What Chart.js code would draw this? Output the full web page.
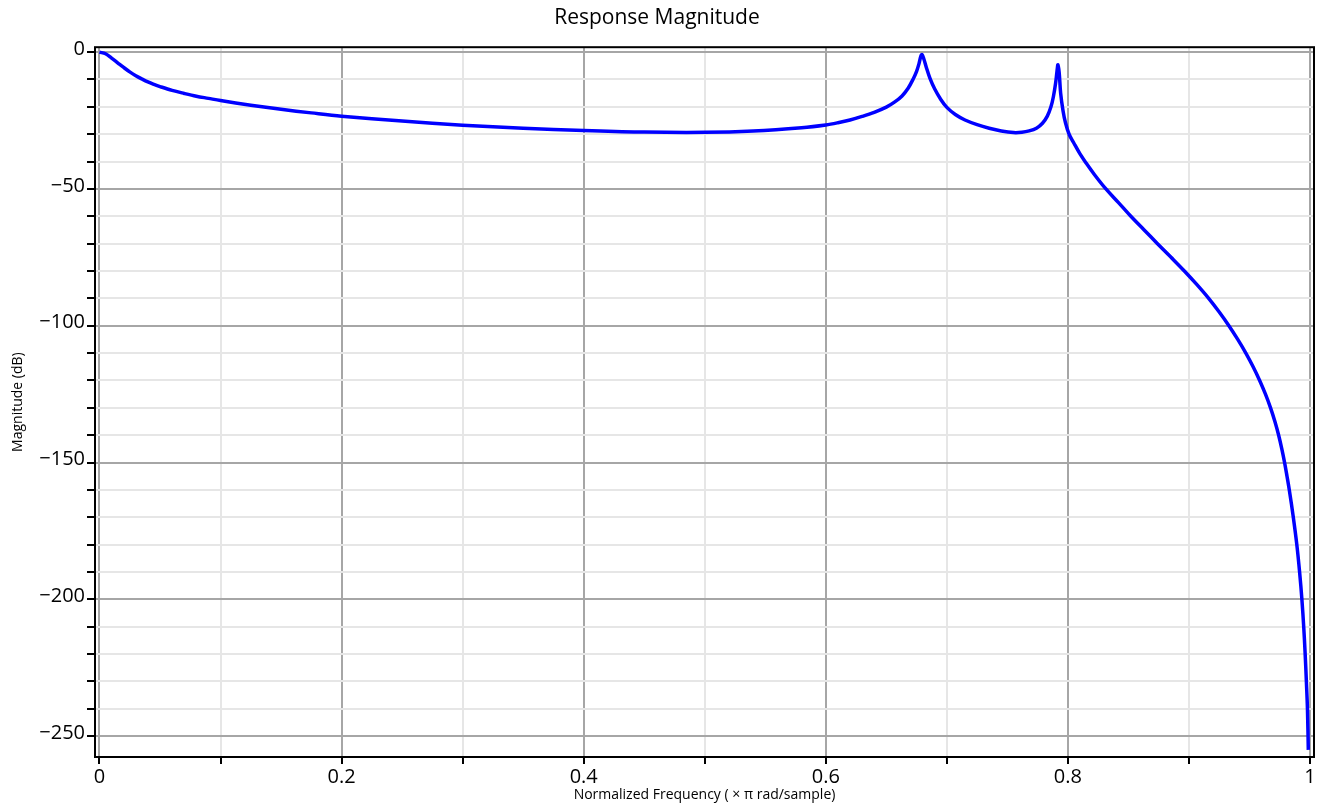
<!DOCTYPE html>
<html>
<head>
<meta charset="utf-8">
<title>Response Magnitude</title>
<script src="https://cdn.jsdelivr.net/npm/chart.js@4.4.1/dist/chart.umd.min.js"></script>
<style>
  html, body { margin: 0; padding: 0; background: #fff; }
  #wrap { width: 1323px; height: 804px; }
</style>
</head>
<body>
<div id="wrap"><canvas id="magChart"></canvas></div>
<script>
// normalized frequency (x pi rad/sample)
const freq = [
  0, 0.005, 0.01, 0.015, 0.02, 0.025, 0.03, 0.035, 0.04, 0.045,
  0.05, 0.06, 0.07, 0.08, 0.09, 0.1, 0.125, 0.15, 0.175, 0.2,
  0.25, 0.3, 0.35, 0.4, 0.45, 0.5, 0.54, 0.58, 0.6, 0.61,
  0.62, 0.63, 0.64, 0.65, 0.657, 0.663, 0.668, 0.672, 0.675, 0.677,
  0.6785, 0.6795, 0.681, 0.683, 0.686, 0.69, 0.695, 0.7, 0.707, 0.715,
  0.725, 0.735, 0.745, 0.755, 0.762, 0.768, 0.774, 0.779, 0.783, 0.786,
  0.788, 0.7898, 0.791, 0.7918, 0.7928, 0.794, 0.796, 0.798, 0.801, 0.805,
  0.81, 0.815, 0.822, 0.8314, 0.8418, 0.852, 0.863, 0.874, 0.8852, 0.8962,
  0.9066, 0.9163, 0.925, 0.933, 0.9403, 0.947, 0.953, 0.9584, 0.9632, 0.9674,
  0.971, 0.9741, 0.9767, 0.979, 0.981, 0.9829, 0.9862, 0.9891, 0.9914, 0.9933,
  0.9948, 0.996, 0.997, 0.9979, 0.9986
];
// magnitude in dB
const magDb = [
  0, -0.6, -2.2, -3.9, -5.6, -7.2, -8.6, -9.8, -10.9, -11.8,
  -12.6, -14.0, -15.1, -16.1, -16.9, -17.7, -19.4, -20.9, -22.2, -23.4,
  -25.2, -26.7, -27.8, -28.6, -29.2, -29.3, -28.8, -27.6, -26.6, -25.8,
  -24.8, -23.5, -22.0, -20.1, -18.2, -16.0, -13.2, -10.0, -7.0, -4.2,
  -1.5, -0.9, -2.5, -5.5, -9.5, -13.5, -17.3, -20.2, -22.8, -24.8,
  -26.5, -27.8, -28.8, -29.4, -29.3, -28.8, -27.8, -26.0, -23.4, -20.0,
  -16.3, -11.5, -7.0, -4.6, -7.5, -15.0, -21.5, -25.8, -30.0, -33.3,
  -37.2, -40.5, -44.8, -50, -55, -60, -65, -70, -75, -80,
  -85, -90, -95, -100, -105, -110, -115, -120, -125, -130,
  -135, -140, -145, -150, -155, -160, -170, -180, -190, -200,
  -210, -220, -230, -240, -255
];

const xTickValues = [0, 0.1, 0.2, 0.3, 0.4, 0.5, 0.6, 0.7, 0.8, 0.9, 1];
const yTickValues = [];
for (let v = -250; v <= 0; v += 10) yTickValues.push(v);

const MAJOR = '#a6a6a6';
const MINOR = '#e6e6e6';
const FONT = "'Open Sans', sans-serif";

const isMajorX = v => Math.round(v * 10) % 2 === 0;
const isMajorY = v => Math.round(v) % 50 === 0;
const fmtNum = v => v < 0 ? '\u2212' + Math.abs(v) : String(v);

// box round the plot area
const boxPlugin = {
  id: 'box',
  afterDraw(chart) {
    const a = chart.chartArea;
    const ctx = chart.ctx;
    ctx.save();
    ctx.strokeStyle = '#000';
    ctx.lineWidth = 2;
    ctx.strokeRect(a.left, a.top, a.right - a.left, a.bottom - a.top);
    ctx.restore();
  }
};

new Chart(document.getElementById('magChart'), {
  type: 'line',
  data: {
    datasets: [{
      data: freq.map((f, i) => ({ x: f, y: magDb[i] })),
      borderColor: '#0000ff',
      borderWidth: 3.5,
      pointRadius: 0,
      fill: false,
      tension: 0.35
    }]
  },
  options: {
    responsive: true,
    maintainAspectRatio: false,
    animation: false,
    devicePixelRatio: 1,
    layout: { padding: { left: 0, right: 9, top: 0, bottom: 0 } },
    plugins: {
      legend: { display: false },
      tooltip: { enabled: false },
      title: {
        display: true,
        text: 'Response Magnitude',
        color: '#000',
        font: { family: FONT, size: 21, weight: 'normal' },
        padding: { top: 5, bottom: 17 }
      }
    },
    scales: {
      x: {
        type: 'linear',
        min: -0.0037,
        max: 1.0033,
        afterBuildTicks: s => { s.ticks = xTickValues.map(v => ({ value: v })); },
        afterFit: s => { s.height = 47; },
        border: { display: false },
        grid: {
          color: c => isMajorX(c.tick.value) ? MAJOR : MINOR,
          lineWidth: 2,
          tickColor: '#000',
          tickWidth: 2,
          tickLength: 7
        },
        ticks: {
          autoSkip: false,
          maxRotation: 0,
          padding: 1,
          color: '#000',
          font: { family: FONT, size: 20 },
          callback: v => isMajorX(v) ? fmtNum(Math.round(v * 10) / 10) : ''
        },
        title: {
          display: true,
          text: 'Normalized Frequency ( \u00d7 \u03c0 rad/sample)',
          color: '#000',
          font: { family: FONT, size: 14 },
          padding: { top: 0, bottom: 1 }
        }
      },
      y: {
        type: 'linear',
        min: -257.6,
        max: 1.8,
        afterBuildTicks: s => { s.ticks = yTickValues.map(v => ({ value: v })); },
        afterFit: s => { s.width = 95; },
        border: { display: false },
        grid: {
          color: c => isMajorY(c.tick.value) ? MAJOR : MINOR,
          lineWidth: 2,
          tickColor: '#000',
          tickWidth: 2,
          tickLength: 8
        },
        ticks: {
          autoSkip: false,
          padding: 2,
          labelOffset: -3,
          color: '#000',
          font: { family: FONT, size: 20 },
          callback: v => isMajorY(v) ? fmtNum(v) : ''
        },
        title: {
          display: true,
          text: 'Magnitude (dB)',
          color: '#000',
          font: { family: FONT, size: 14 },
          padding: { top: 10, bottom: 0 }
        }
      }
    }
  },
  plugins: [boxPlugin]
});
</script>
</body>
</html>
